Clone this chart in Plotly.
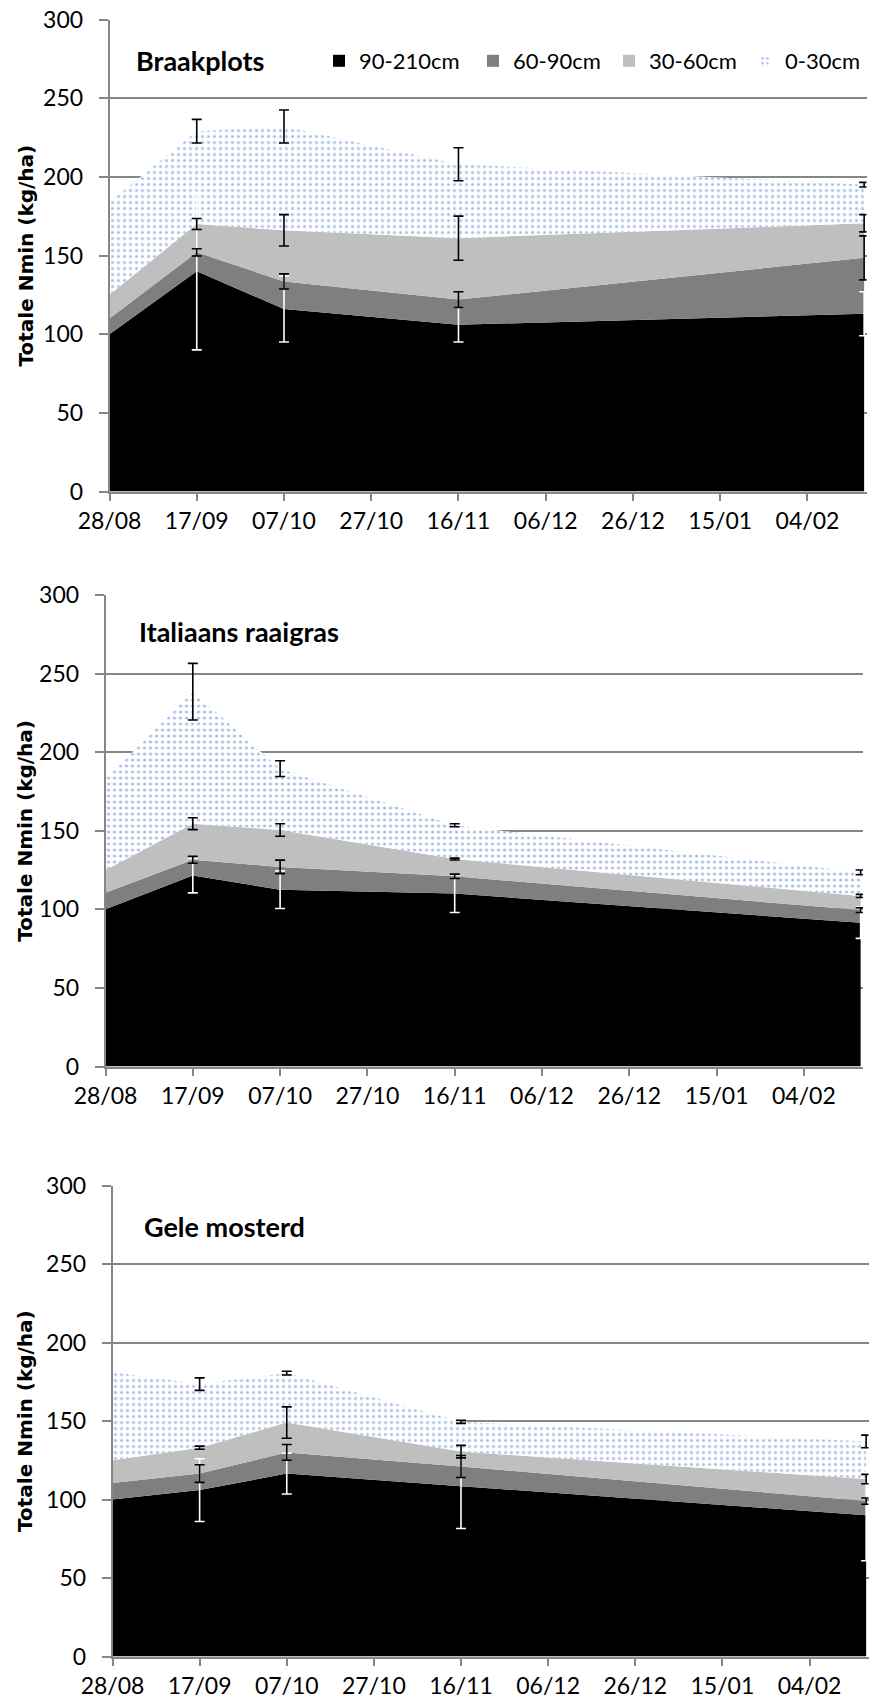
import numpy as np
import plotly.graph_objects as go

W, H = 869, 1706

# Sampling dates (first sampling at 28/08, last at 17/02)
dates = ["2010-08-28", "2010-09-17", "2010-10-07", "2010-11-16", "2011-02-17"]
layer_names = ["90-210cm", "60-90cm", "30-60cm", "0-30cm"]
panel_titles = ["Braakplots", "Italiaans raaigras", "Gele mosterd"]

# Nmin per soil layer (kg/ha) - Braakplots
braak_90_210 = [100, 140, 116, 106, 113]
braak_60_90 = [10, 12, 17.5, 16, 35.5]
braak_30_60 = [15, 18, 32.5, 39, 22]
braak_0_30 = [59, 59, 66, 47, 24.5]
# standard errors at the cumulative level of each layer
braak_err_90_210 = [None, 50, 21, 11, 14]
braak_err_60_90 = [None, 2.3, 4.8, 5, 14]
braak_err_30_60 = [None, 3.5, 10, 14, 5.5]
braak_err_0_30 = [None, 7.5, 10.5, 10.5, 1.5]

# Nmin per soil layer (kg/ha) - Italiaans raaigras
raai_90_210 = [100, 121.5, 112.5, 110, 91.5]
raai_60_90 = [10.5, 10, 14.5, 11, 8]
raai_30_60 = [14.5, 23, 23.5, 11, 9]
raai_0_30 = [58, 84, 39, 21.5, 15]
raai_err_90_210 = [None, 11, 12, 12, 10]
raai_err_60_90 = [None, 2.2, 4.3, 1.4, 1.5]
raai_err_30_60 = [None, 3.8, 4, 0.6, 1]
raai_err_0_30 = [None, 18, 5, 1, 1.5]

# Nmin per soil layer (kg/ha) - Gele mosterd
most_90_210 = [100, 106, 116.5, 108.5, 90]
most_60_90 = [10.5, 10.5, 13.5, 12.5, 9]
most_30_60 = [14.5, 16.5, 19, 9.5, 14]
most_0_30 = [56, 40.5, 31.5, 19, 24]
most_err_90_210 = [None, 20, 13, 27, 29]
most_err_60_90 = [None, 5.6, 5, 7, 2]
most_err_30_60 = [None, 1, 10, 4, 3]
most_err_0_30 = [None, 4, 1.2, 1, 4]

y_ticks = [0, 50, 100, 150, 200, 250, 300]

panels = [
    ([braak_90_210, braak_60_90, braak_30_60, braak_0_30],
     [braak_err_90_210, braak_err_60_90, braak_err_30_60, braak_err_0_30]),
    ([raai_90_210, raai_60_90, raai_30_60, raai_0_30],
     [raai_err_90_210, raai_err_60_90, raai_err_30_60, raai_err_0_30]),
    ([most_90_210, most_60_90, most_30_60, most_0_30],
     [most_err_90_210, most_err_60_90, most_err_30_60, most_err_0_30]),
]

# plot-area geometry in pixels: (left, right, top, bottom)
boxes = [(109.5, 866.5, 19.5, 491.5), (105.5, 863.0, 595.0, 1066.5), (112.5, 868.5, 1185.5, 1656.5)]

GRID = "#868686"
FILLS = ["#000000", "#7f7f7f", "#bfbfbf", "white"]
ERR_COLORS = ["white", "black", "black", "black"]
DOT = dict(shape=".", fgcolor="#4472c4", bgcolor="white", size=6, solidity=0.2)
TICKFONT = dict(family="Lato", size=23, color="black")

X_START, X_END = "2010-08-28", "2011-02-17 13:00"

fig = go.Figure()

for p, (layers, errs) in enumerate(panels):
    xa = "x" if p == 0 else f"x{p+1}"
    ya = "y" if p == 0 else f"y{p+1}"
    # stacked areas
    for k, vals in enumerate(layers):
        kw = dict(fillpattern=DOT) if k == 3 else {}
        fig.add_trace(go.Scatter(
            x=dates, y=vals, stackgroup=f"s{p}", mode="none",
            fillcolor=FILLS[k], line=dict(width=0), showlegend=False,
            hoverinfo="skip", xaxis=xa, yaxis=ya, **kw))
    # error bars at the cumulative top of each layer
    tops = np.cumsum(np.array(layers, dtype=float), axis=0)
    for k in range(4):
        xs = [d for d, e in zip(dates, errs[k]) if e is not None]
        ys = [t for t, e in zip(tops[k], errs[k]) if e is not None]
        es = [e for e in errs[k] if e is not None]
        fig.add_trace(go.Scatter(
            x=xs, y=ys, mode="markers", marker=dict(size=1, color="rgba(0,0,0,0)"),
            error_y=dict(type="data", array=es, symmetric=True, color=ERR_COLORS[k],
                         thickness=1.6, width=5),
            showlegend=False, hoverinfo="skip", xaxis=xa, yaxis=ya))

# legend entries (square swatches, zero-height bars), one legend box per entry
legend_ids = ["legend", "legend2", "legend3", "legend4"]
legend_x = [319, 473, 609, 745]
for k, name in enumerate(layer_names):
    marker = dict(color=FILLS[k], line=dict(width=0))
    if k == 3:
        marker["pattern"] = DOT
    fig.add_trace(go.Bar(x=[dates[0]], y=[0], name=name, marker=marker, legend=legend_ids[k],
                         hoverinfo="skip", xaxis="x", yaxis="y"))

layout = dict(
    width=W, height=H, margin=dict(l=0, r=0, t=0, b=0, autoexpand=False),
    paper_bgcolor="white", plot_bgcolor="white", showlegend=True,
)
for lid, lx in zip(legend_ids, legend_x):
    layout[lid] = dict(orientation="h", x=lx / W, y=1 - 40 / H, xanchor="left", yanchor="top",
                       font=dict(family="Lato", size=22, color="black"),
                       bgcolor="rgba(0,0,0,0)")

annotations = []
for p, (l, r, t, b) in enumerate(boxes):
    sx = "" if p == 0 else str(p + 1)
    layout[f"xaxis{sx}"] = dict(
        domain=[l / W, r / W], anchor=f"y{sx}", type="date", range=[X_START, X_END],
        tick0=X_START, dtick=20 * 86400000, tickformat="%d/%m", ticks="outside", ticklen=8,
        tickwidth=1.5, tickcolor=GRID, showline=True, linecolor=GRID, linewidth=1.5,
        showgrid=False, zeroline=False, tickfont=TICKFONT, fixedrange=True, automargin=False)
    layout[f"yaxis{sx}"] = dict(
        domain=[1 - b / H, 1 - t / H], anchor=f"x{sx}", range=[0, 300],
        tickvals=y_ticks, showgrid=True, gridcolor=GRID, gridwidth=1.5,
        ticks="outside", ticklen=9, tickwidth=1.5, tickcolor=GRID, showline=True,
        linecolor=GRID, linewidth=1.5, zeroline=False, tickfont=TICKFONT,
        ticklabelstandoff=11, fixedrange=True, automargin=False)
    annotations.append(dict(
        text="Totale Nmin (kg/ha)", textangle=-90, xref="paper", yref="paper",
        x=25 / W, y=1 - ((t + b) / 2) / H, xanchor="center", yanchor="middle",
        showarrow=False, font=dict(family="DejaVu Sans", size=20, color="black", weight="bold")))

title_pos = [(134, 60), (137, 632), (142, 1226)]
for title, (tx, ty) in zip(panel_titles, title_pos):
    annotations.append(dict(
        text=title, xref="paper", yref="paper", x=tx / W, y=1 - ty / H,
        xanchor="left", yanchor="middle", showarrow=False,
        font=dict(family="Lato", size=27, color="black", weight="bold")))

layout["annotations"] = annotations
fig.update_layout(**layout)
fig.write_html("out.html")
